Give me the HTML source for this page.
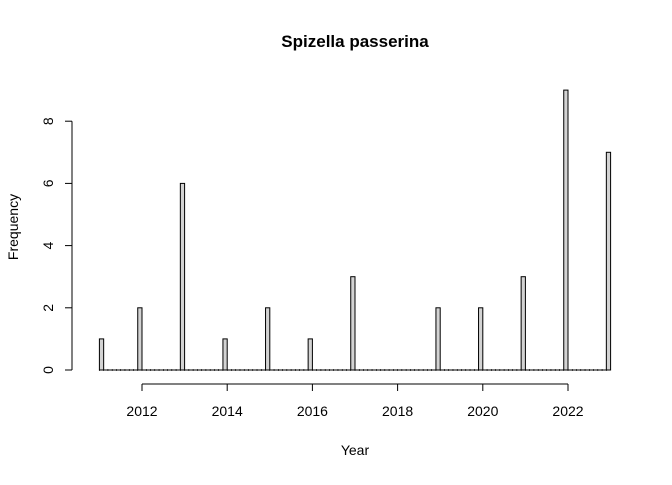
<!DOCTYPE html>
<html><head><meta charset="utf-8"><style>body{margin:0;background:#fff}svg{font-family:"Liberation Sans",sans-serif}</style></head>
<body>
<svg id="c" width="672" height="480">
<text x="355" y="47" text-anchor="middle" font-weight="bold" font-size="17">Spizella passerina</text>
<text x="355" y="455" text-anchor="middle" font-size="14">Year</text>
<text transform="translate(18,227) rotate(-90)" text-anchor="middle" font-size="14">Frequency</text>
<g id="bars"></g>
<g id="ax"></g>
</svg>
<script>
const years=[2011,2012,2013,2014,2015,2016,2017,2018,2019,2020,2021,2022,2023];
const counts=[1,2,6,1,2,1,3,0,2,2,3,9,7];
const xTicks=[2012,2014,2016,2018,2020,2022];
const yTicks=[0,2,4,6,8];
const NS="http://www.w3.org/2000/svg";
const X=v=>142+(v-2012)*42.6;
const Y=v=>370-v*31.1;
function mk(t,a,p){const e=document.createElementNS(NS,t);for(const k in a)e.setAttribute(k,a[k]);p.appendChild(e);return e;}
const bars=document.getElementById('bars'),ax=document.getElementById('ax');
// zero-height bins
for(let i=0;i<120;i++){
  const b=mk('rect',{x:X(2011+i*0.1),y:370,width:42.6*0.1,height:0,fill:'none',stroke:'#000','stroke-width':1},bars);
  
  
  mk('line',{x1:X(2011+i*0.1),x2:X(2011+i*0.1),y1:369,y2:371,stroke:'#000','stroke-width':0.6},bars);
}
mk('line',{x1:X(2011),x2:X(2023),y1:370,y2:370,stroke:'#000'},bars);
years.forEach((yr,i)=>{
  if(!counts[i])return;
  const x0=i===0?yr:yr-0.1;
  const r=mk('rect',{x:X(x0),y:Y(counts[i]),width:42.6*0.1,height:Y(0)-Y(counts[i]),fill:'#d3d3d3',stroke:'#000','stroke-width':1},bars);
  
  
});
mk('line',{x1:X(xTicks[0]),x2:X(xTicks[xTicks.length-1]),y1:384,y2:384,stroke:'#000'},ax);
xTicks.forEach(t=>{
  mk('line',{x1:X(t),x2:X(t),y1:384,y2:391,stroke:'#000'},ax);
  const l=mk('text',{x:X(t),y:416,'text-anchor':'middle','font-size':14},ax);l.textContent=t;
  
  
});
mk('line',{x1:72,x2:72,y1:Y(0),y2:Y(8),stroke:'#000'},ax);
yTicks.forEach(t=>{
  mk('line',{x1:65,x2:72,y1:Y(t),y2:Y(t),stroke:'#000'},ax);
  const l=mk('text',{transform:`translate(53,${Y(t)}) rotate(-90)`,'text-anchor':'middle','font-size':14},ax);l.textContent=t;
  
  
});
</script>
</body></html>
